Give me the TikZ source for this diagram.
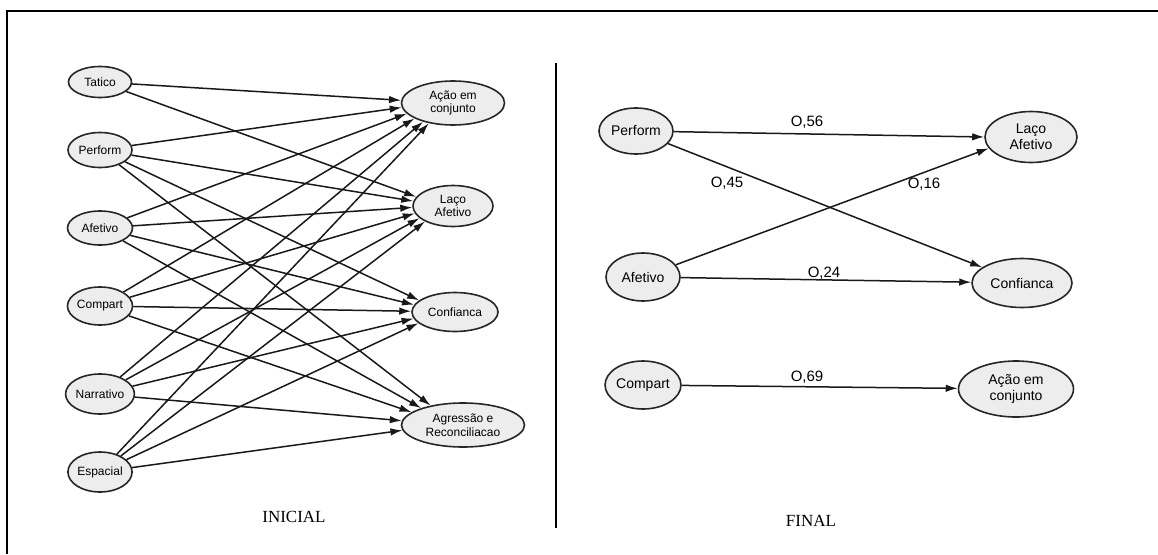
\documentclass[tikz,border=0pt]{standalone}
\usepackage{fontspec}
\setmainfont{Liberation Sans}
\newfontfamily\serifcap{Liberation Serif}
\usetikzlibrary{shapes.geometric,arrows.meta}
\begin{document}
\begin{tikzpicture}[x=1pt,y=-1pt,
  lv/.style={ellipse, draw=black!85, line width=1.6pt, fill=gray!14, inner sep=0pt, align=center},
  lsmall/.style={lv, font=\fontsize{12}{13.5}\selectfont},
  lbig/.style={lv, font=\fontsize{14}{16}\selectfont},
  arr/.style={-{Latex[length=12pt,width=7.5pt]}, line width=1.5pt, draw=black!90},
  coef/.style={font=\fontsize{15}{17}\selectfont},
  captext/.style={font=\serifcap\fontsize{17}{19}\selectfont}
]
\useasboundingbox (0,0) rectangle (1158,554);
\draw[line width=2.2pt] (7,554) -- (7,11) -- (1158,11);
\coordinate (divT) at (556,63);
\coordinate (divB) at (556,528);
\draw[line width=2.5pt] (divT) -- (divB);

% left diagram
\node[lsmall, minimum width=63pt, minimum height=31pt] (t) at (100,82) {Tatico};
\node[lsmall, minimum width=64pt, minimum height=35pt] (p) at (100,150) {Perform};
\node[lsmall, minimum width=65pt, minimum height=34pt] (af) at (100,228) {Afetivo};
\node[lsmall, minimum width=64pt, minimum height=38pt] (c) at (100,306) {Compart};
\node[lsmall, minimum width=63pt, minimum height=40pt] (n) at (100,394) {Narrativo};
\node[lsmall, minimum width=62pt, minimum height=40pt] (e) at (100,472) {Espacial};

\node[lsmall, minimum width=103pt, minimum height=44pt] (A) at (453,103) {Ação em\\conjunto};
\node[lsmall, minimum width=80pt, minimum height=41pt] (L) at (453,206) {Laço\\Afetivo};
\node[lsmall, minimum width=86pt, minimum height=39pt] (C) at (455,312) {Confianca};
\node[lsmall, minimum width=123pt, minimum height=44pt] (G) at (463,425) {Agressão e\\Reconciliacao};

\foreach \s/\ys/\d/\yd in {t/82/A/103,t/82/L/206,
    p/150/A/103,p/150/L/206,p/150/C/312,p/150/G/425,
    af/228/A/103,af/228/L/206,af/228/C/312,af/228/G/425,
    c/306/A/103,c/306/L/206,c/306/C/312,c/306/G/425,
    n/394/A/103,n/394/L/206,n/394/C/312,n/394/G/425,
    e/472/A/103,e/472/L/206,e/472/C/312,e/472/G/425}
{
  \pgfmathsetmacro{\ang}{180+0.11*(\ys-\yd)}
  \draw[arr] (\s) -- (\d.\ang);
}

\node[captext] (ini) at (294,517) {INICIAL};

% right diagram
\node[lbig, minimum width=74pt, minimum height=46pt] (P2) at (636,131) {Perform};
\node[lbig, minimum width=74pt, minimum height=48pt] (AF2) at (643,277) {Afetivo};
\node[lbig, minimum width=70pt, minimum height=48pt] (C2) at (643,385) {Compart};

\node[lbig, minimum width=92pt, minimum height=51pt] (L2) at (1031,137) {Laço\\Afetivo};
\node[lbig, minimum width=100pt, minimum height=49pt] (CF2) at (1022,283) {Confianca};
\node[lbig, minimum width=115pt, minimum height=56pt] (A2) at (1016,389) {Ação em\\conjunto};

\draw[arr] (P2) -- (L2.west);
\draw[arr] (P2) -- (CF2);
\draw[arr] (AF2) -- (L2.195);
\draw[arr] (AF2) -- (CF2);
\draw[arr] (C2) -- (A2);

\node[coef] (k56) at (807,122) {O,56};
\node[coef] (k45) at (727,183) {O,45};
\node[coef] (k16) at (924,184) {O,16};
\node[coef] (k24) at (824,273) {O,24};
\node[coef] (k69) at (807,377) {O,69};

\node[captext] (fin) at (811,521) {FINAL};
\end{tikzpicture}
\end{document}
